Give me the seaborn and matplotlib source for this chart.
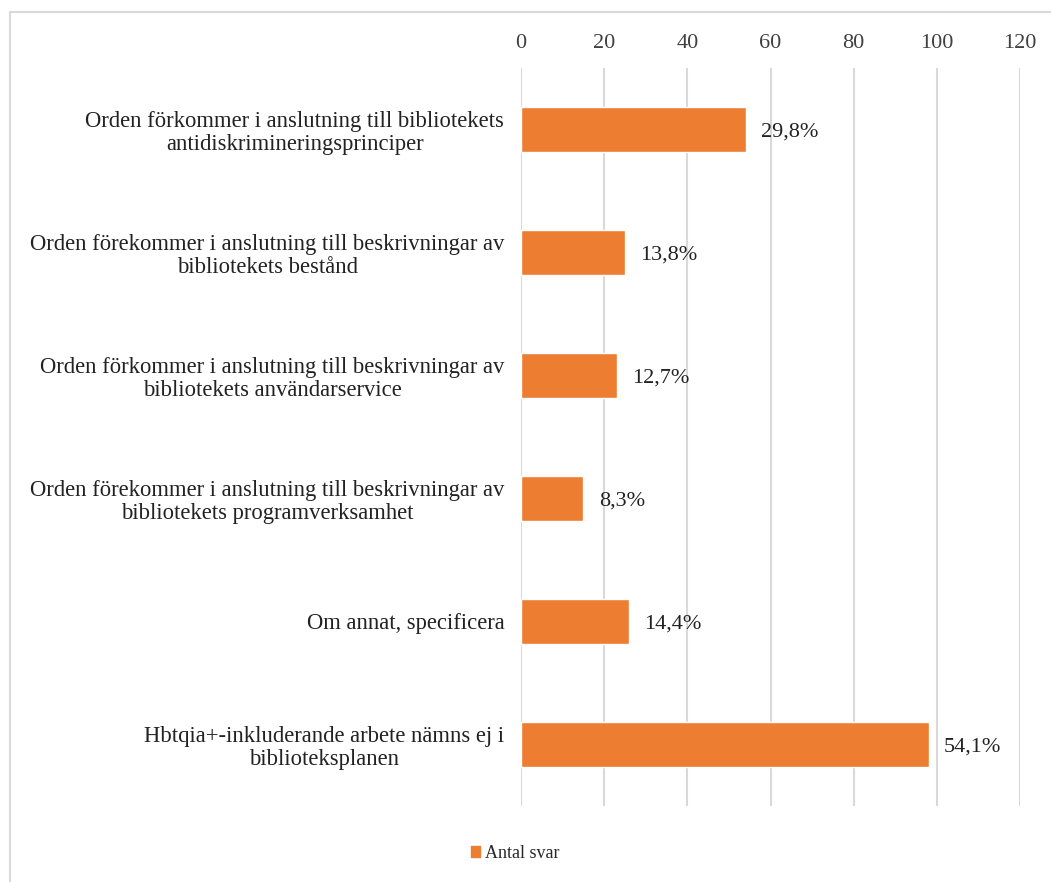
import matplotlib
matplotlib.use('Agg')
import matplotlib.pyplot as plt
import seaborn as sns
import pandas as pd
from matplotlib.patches import Rectangle

# data
categories = [
    'Orden förkommer i anslutning till bibliotekets\nantidiskrimineringsprinciper',
    'Orden förekommer i anslutning till beskrivningar av\nbibliotekets bestånd',
    'Orden förkommer i anslutning till beskrivningar av\nbibliotekets användarservice',
    'Orden förekommer i anslutning till beskrivningar av\nbibliotekets programverksamhet',
    'Om annat, specificera',
    'Hbtqia+-inkluderande arbete nämns ej i\nbiblioteksplanen',
]
antal_svar = [54, 25, 23, 15, 26, 98]
pct_labels = ['29,8%', '13,8%', '12,7%', '8,3%', '14,4%', '54,1%']
x_ticks = [0, 20, 40, 60, 80, 100, 120]

orange = '#ED7D31'

sns.set_style('white')
plt.rcParams['font.family'] = ['Liberation Serif', 'DejaVu Serif']

df = pd.DataFrame({'cat': categories, 'n': antal_svar})

fig = plt.figure(figsize=(10.51, 8.82), dpi=100)
# light grey outer frame like the Excel chart area
fig.patches.append(Rectangle((10 / 1051, -0.1), 1.2, (1 - 12 / 882) + 0.1,
                             transform=fig.transFigure, fill=False,
                             edgecolor='#D9D9D9', linewidth=1.5))

ax = fig.add_axes([521 / 1051, 1 - 806 / 882, 499 / 1051, 738 / 882])
sns.barplot(data=df, x='n', y='cat', color=orange, width=0.36, ax=ax,
            saturation=1)

ax.set_xlim(0, 120)
ax.set_xticks(x_ticks)
ax.xaxis.tick_top()
ax.tick_params(axis='x', length=0, pad=11, labelsize=16, colors='#404040')
ax.tick_params(axis='y', length=0, pad=12, labelsize=16.3, colors='#222222')
for lbl in ax.get_yticklabels():
    lbl.set_multialignment('center')
    lbl.set_linespacing(1.15)
ax.set_xlabel('')
ax.set_ylabel('')
ax.grid(axis='x', color='#D9D9D9', linewidth=1.5)
ax.set_axisbelow(True)
for s in ax.spines.values():
    s.set_visible(False)

for i, (v, t) in enumerate(zip(antal_svar, pct_labels)):
    ax.annotate(t, (v, i), xytext=(11, -2), textcoords='offset points',
                va='center', ha='left', fontsize=16, color='#222222')

handle = Rectangle((0, 0), 1, 1, color=orange)
fig.legend([handle], ['Antal svar'], loc='center', bbox_to_anchor=(515 / 1051, 1 - 853 / 882),
           frameon=False, fontsize=13, handlelength=0.55, handleheight=0.55,
           handletextpad=0.25)

fig.savefig('out.png', dpi=100, facecolor='white')
